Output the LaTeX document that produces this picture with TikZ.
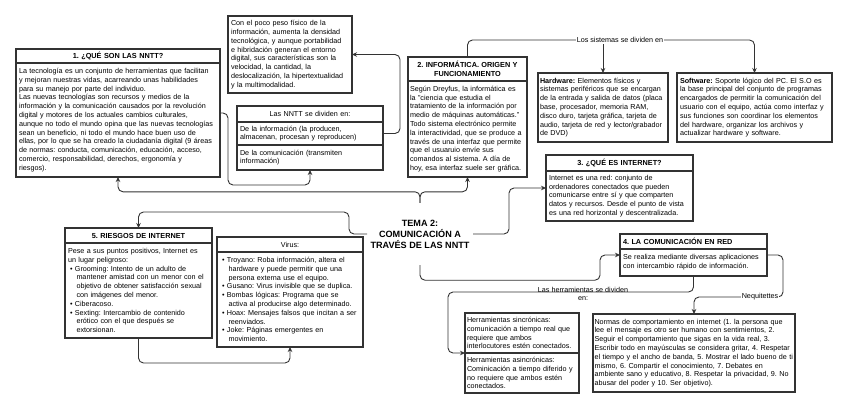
\documentclass[tikz,border=0pt]{standalone}
\usepackage{fontspec}
\setmainfont{Liberation Sans}
\usetikzlibrary{calc,positioning,arrows.meta}
\newcommand{\itm}{\hspace*{2pt}\textbullet\ }
\newcommand{\cnt}{\hspace*{8.5pt}}
\frenchspacing

\begin{document}
\begin{tikzpicture}[x=1pt,y=-1pt,
	box/.style={draw=black!80, line width=1.1pt, fill=white, anchor=north west, outer sep=0pt,
		align=left, inner xsep=3pt, inner ysep=2pt, font=\fontsize{7.2}{8.8}\selectfont},
	head/.style={box, align=center, font=\fontsize{7.3}{8.8}\selectfont\bfseries},
	link/.style={draw=black!80, line width=0.9pt, rounded corners=5pt, -{Stealth[length=5pt,width=4.5pt]}},
	lbl/.style={fill=white, inner sep=1pt, font=\fontsize{7.2}{8.8}\selectfont}]
	\useasboundingbox (0,0) rectangle (848,409);

	\node[font=\fontsize{9.1}{11}\selectfont\bfseries, align=center, minimum width=104, minimum height=62] (tema) at (420,234)
		{TEMA 2:\\COMUNICACIÓN A\\TRAVÉS DE LAS NNTT};

	% 1
	\node[head, text width=198, minimum height=14] (box1h) at (16,49) {1. ¿QUÉ SON LAS NNTT?};
	\node[box, text width=198, minimum height=114, below=0pt of box1h] (box1)
		{La tecnología es un conjunto de herramientas que facilitan\\
		y mejoran nuestras vidas, acarreando unas habilidades\\
		para su manejo por parte del individuo.\\
		Las nuevas tecnologías son recursos y medios de la\\
		información y la comunicación causados por la revolución\\
		digital y motores de los actuales cambios culturales,\\
		aunque no todo el mundo opina que las nuevas tecnologías\\
		sean un beneficio, ni todo el mundo hace buen uso de\\
		ellas, por lo que se ha creado la ciudadanía digital (9 áreas\\
		de normas: conducta, comunicación, educación, acceso,\\
		comercio, responsabilidad, derechos, ergonomía y\\
		riesgos).};
	\node[box, text width=118, minimum height=77] (peso) at (228,16)
		{Con el poco peso físico de la\\
		información, aumenta la densidad\\
		tecnológica, y aunque portabilidad\\
		e hibridación generan el entorno\\
		digital, sus características son la\\
		velocidad, la cantidad, la\\
		deslocalización, la hipertextualidad\\
		y la multimodalidad.};
	\node[box, align=center, text width=140, minimum height=16] (nntth) at (237,106) {Las NNTT se dividen en:};
	\node[box, text width=140, minimum height=23, below=0pt of nntth] (nntt1)
		{De la información (la producen,\\almacenan, procesan y reproducen)};
	\node[box, text width=140, minimum height=25, below=0pt of nntt1] (nntt2)
		{De la comunicación (transmiten\\información)};

	% 2
	\node[head, inner xsep=2pt, text width=115, minimum height=24] (box2h) at (408,57)
		{2. INFORMÁTICA. ORIGEN Y\\FUNCIONAMIENTO};
	\node[box, inner xsep=2pt, text width=115, minimum height=96, below=0pt of box2h] (box2)
		{Según Dreyfus, la informática es\\
		la "ciencia que estudia el\\
		tratamiento de la información por\\
		medio de máquinas automáticas."\\
		Todo sistema electrónico permite\\
		la interactividad, que se produce a\\
		través de una interfaz que permite\\
		que el usuaruio envíe sus\\
		comandos al sistema. A día de\\
		hoy, esa interfaz suele ser gráfica.};
	\node[box, inner xsep=2pt, text width=126, minimum height=69] (hardware) at (538,73)
		{\textbf{Hardware:} Elementos físicos y\\
		sistemas periféricos que se encargan\\
		de la entrada y salida de datos (placa\\
		base, procesador, memoria RAM,\\
		disco duro, tarjeta gráfica, tarjeta de\\
		audio, tarjeta de red y lector/grabador\\
		de DVD)};
	\node[box, text width=149, minimum height=69] (software) at (677,73)
		{\textbf{Software:} Soporte lógico del PC. El S.O es\\
		la base principal del conjunto de programas\\
		encargados de permitir la comunicación del\\
		usuario con el equipo, actúa como interfaz y\\
		sus funciones son coordinar los elementos\\
		del hardware, organizar los archivos y\\
		actualizar hardware y software.};

	% 3
	\node[head, text width=141, minimum height=16] (box3h) at (546,155) {3. ¿QUÉ ES INTERNET?};
	\node[box, text width=141, minimum height=50, below=0pt of box3h] (box3)
		{Internet es una red: conjunto de\\
		ordenadores conectados que pueden\\
		comunicarse entre sí y que comparten\\
		datos y recursos. Desde el punto de vista\\
		es una red horizontal y descentralizada.};

	% 4
	\node[head, align=left, text width=141, minimum height=15] (box4h) at (620,234) {4. LA COMUNICACIÓN EN RED};
	\node[box, text width=141, minimum height=27, below=0pt of box4h] (box4)
		{Se realiza mediante diversas aplicaciones\\
		con intercambio rápido de información.};
	\node[box, inner xsep=2pt, text width=110, minimum height=40] (herr1) at (465,313)
		{Herramientas sincrónicas:\\
		comunicación a tiempo real que\\
		requiere que ambos\\
		interlocutores estén conectados.};
	\node[box, inner xsep=2pt, text width=110, minimum height=40, below=0pt of herr1] (herr2)
		{Herramientas asincrónicas:\\
		Cominicación a tiempo diferido y\\
		no requiere que ambos estén\\
		conectados.};
	\node[box, inner xsep=1.5pt, text width=199, minimum height=78] (normas) at (593,314)
		{Normas de comportamiento en internet (1. la persona que\\
		lee el mensaje es otro ser humano con sentimientos, 2.\\
		Seguir el comportamiento que sigas en la vida real, 3.\\
		Escribir todo en mayúsculas se considera gritar, 4. Respetar\\
		el tiempo y el ancho de banda, 5. Mostrar el lado bueno de ti\\
		mismo, 6. Compartir el conocimiento, 7. Debates en\\
		ambiente sano y educativo, 8. Respetar la privacidad, 9. No\\
		abusar del poder y 10. Ser objetivo).};

	% 5
	\node[head, text width=141, minimum height=15] (box5h) at (65,228) {5. RIESGOS DE INTERNET};
	\node[box, text width=141, minimum height=95, below=0pt of box5h] (box5)
		{Pese a sus puntos positivos, Internet es\\
		un lugar peligroso:\\
		\itm Grooming: Intento de un adulto de\\
		\cnt mantener amistad con un menor con el\\
		\cnt objetivo de obtener satisfacción sexual\\
		\cnt con imágenes del menor.\\
		\itm Ciberacoso.\\
		\itm Sexting: Intercambio de contenido\\
		\cnt erótico con el que después se\\
		\cnt extorsionan.};
	\node[box, align=center, text width=140, minimum height=15] (virush) at (217,237) {Virus:};
	\node[box, text width=140, minimum height=95, below=0pt of virush] (virus)
		{\itm Troyano: Roba información, altera el\\
		\cnt hardware y puede permitir que una\\
		\cnt persona externa use el equipo.\\
		\itm Gusano: Virus invisible que se duplica.\\
		\itm Bombas lógicas: Programa que se\\
		\cnt activa al producirse algo determinado.\\
		\itm Hoax: Mensajes falsos que incitan a ser\\
		\cnt reenviados.\\
		\itm Joke: Páginas emergentes en\\
		\cnt movimiento.};

	\draw[link] (tema.north) -- ++(0,-11) -| (box1.south);
	\draw[link] (tema.north) -- ++(0,-11) -| (box2.south);
	\draw[link] (tema.west) -- ++(-18,0) |- ($(box5h.north)+(0,-16)$) -- (box5h.north);
	\draw[link] (tema.east) -- ++(36,0) |- ($(box3h.north west)!.5!(box3.south west)$);
	\draw[link] (tema.south) -- ++(0,15) -- ++(180,0) |- ($(box4h.north west)!.5!(box4.south west)$);
	\draw[link] ($(box1h.north east)!.5!(box1.south east)$) -- ++(8,0) |- ($(nntt2.south)+(0,15)$) -- (nntt2.south);
	\draw[link] (nntt1.east) -- ++(17,0) |- (peso.east);
	\draw[link] (box5.south) -- ++(0,25) -| (virus.south);

	\coordinate (sys) at (620,40);
	\draw[link] (box2h.north) |- (sys) -| (software.north);
	\draw[link] (sys -| hardware.north) -- (hardware.north);
	\node[lbl] (syslbl) at (sys) {Los sistemas se dividen en};

	\draw[link] (box4.south) -- ++(0,16) -| ([xshift=-17pt]herr1.south west) -- (herr1.south west);
	\node[lbl, fill=none, align=center] (herrlbl) at (583,294) {Las herramientas se dividen\\en:};

	\coordinate (neq) at (760,297);
	\draw[link] ($(box4h.north east)!.5!(box4.south east)$) -- ++(16,0) |- (neq) -| (normas.north);
	\node[lbl] (neqlbl) at (neq) {Nequitettes};
\end{tikzpicture}
\end{document}
